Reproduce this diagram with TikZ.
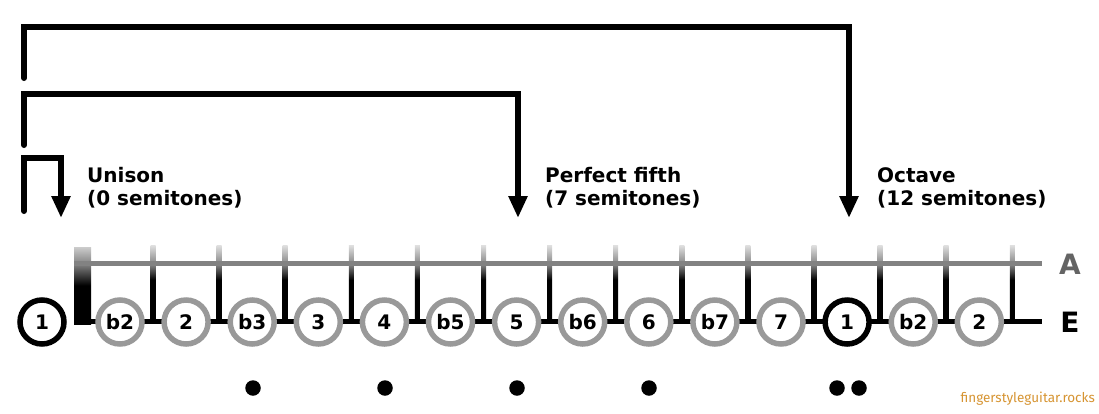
\documentclass[tikz,border=0pt]{standalone}
\usepackage{fontspec}
\setmainfont{DejaVu Sans}
\newfontfamily\wmfont{Fira Sans}
\usetikzlibrary{arrows.meta}
\definecolor{notegray}{RGB}{153,153,153}
\definecolor{stringgray}{RGB}{130,130,130}
\definecolor{agray}{RGB}{100,100,100}
\definecolor{wmorange}{RGB}{214,148,50}
\pgfdeclareverticalshading{fretshade}{100bp}{color(0bp)=(black); color(25bp)=(black); color(52bp)=(black); color(62bp)=(stringgray); color(75bp)=(white!88!black); color(100bp)=(white!88!black)}
\pgfdeclareverticalshading{nutshade}{100bp}{color(0bp)=(black); color(25bp)=(black); color(50bp)=(black); color(64bp)=(stringgray); color(75bp)=(white!80!black); color(100bp)=(white!80!black)}
\begin{document}
\begin{tikzpicture}[x=1pt,y=-1pt,
  note/.style={circle, draw=notegray, line width=5.5pt, fill=white, minimum size=44pt, inner sep=0pt, font=\fontsize{20}{20}\selectfont\bfseries},
  root/.style={note, draw=black},
  brk/.style={line width=6pt, line cap=round, -{Triangle[length=22pt,width=18pt]}},
  lbl/.style={anchor=north west, align=left, font=\fontsize{20}{23}\selectfont\bfseries, inner sep=0pt},
  dotm/.style={circle, fill=black, minimum size=15.5pt, inner sep=0pt},
  strlbl/.style={font=\fontsize{28}{28}\selectfont\bfseries, inner sep=0pt},
]
\useasboundingbox (0,0) rectangle (1099,413);
% frets
\foreach \k in {0,...,13} {
  \shade[shading=fretshade] ({153+66.1*\k-2.5},245) rectangle ({153+66.1*\k+2.5},321);
}
% nut
\shade[shading=nutshade] (74,247) rectangle (91,324);
% strings
\draw[stringgray, line width=5pt] (74,263) -- (1042,263);
\draw[black, line width=5pt] (88,321.5) -- (1042,321.5);
% notes
\node[root] (n0) at (42,322) {1};
\foreach \k/\t in {1/b2,2/2,3/b3,4/3,5/4,6/b5,7/5,8/b6,9/6,10/b7,11/7,13/b2,14/2} {
  \node[note] (n\k) at ({120+66.1*(\k-1)},322) {\t};
}
\node[root] (n12) at ({120+66.1*11},322) {1};
% string labels
\node[strlbl, text=agray] (la) at (1070,264) {A};
\node[strlbl, text=black] (le) at (1070,322) {E};
% brackets
\coordinate (u0) at (24,211);
\coordinate (ut) at (24,158);
\coordinate (u1) at (61,218);
\coordinate (f0) at (24,145);
\coordinate (ft) at (24,94);
\coordinate (f1) at (518,218);
\coordinate (o0) at (24,78);
\coordinate (ot) at (24,27);
\coordinate (o1) at (849,218);
\draw[brk] (u0) -- (ut) -| (u1);
\draw[brk] (f0) -- (ft) -| (f1);
\draw[brk] (o0) -- (ot) -| (o1);
% labels
\node[lbl] (tu) at (87,167) {Unison\\(0 semitones)};
\node[lbl] (tf) at (545,167) {Perfect fifth\\(7 semitones)};
\node[lbl] (to) at (877,167) {Octave\\(12 semitones)};
% dots
\node[dotm] (d3) at (253,388) {};
\node[dotm] (d5) at (385,388) {};
\node[dotm] (d7) at (517,388) {};
\node[dotm] (d9) at (649,388) {};
\node[dotm] (d12a) at (837,388) {};
\node[dotm] (d12b) at (859,388) {};
% watermark
\node[anchor=base east, inner sep=0pt, text=wmorange, font=\wmfont\fontsize{13.5}{13.5}\selectfont] (wm) at (1095,402) {fingerstyleguitar.rocks};
\end{tikzpicture}
\end{document}
